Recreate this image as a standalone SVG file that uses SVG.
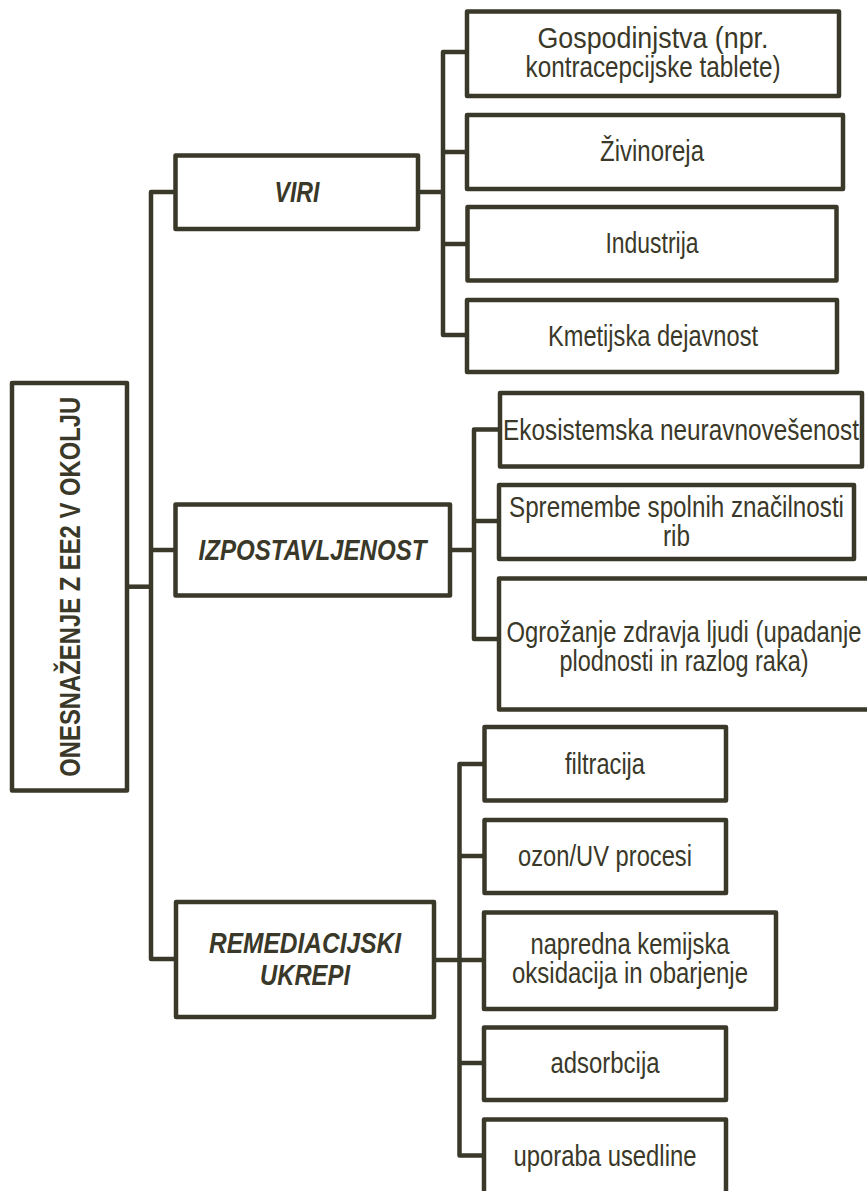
<svg xmlns="http://www.w3.org/2000/svg" width="867" height="1191" viewBox="0 0 867 1191">
<style>
  .box { fill: #ffffff; stroke: #3a3828; stroke-width: 4.5; stroke-linejoin: round; }
  .con { fill: none; stroke: #3a3828; stroke-width: 4.5; stroke-linejoin: round; stroke-linecap: butt; }
  .t { font-family: "Liberation Sans", Arial, sans-serif; font-size: 29px; fill: #3a3828; text-anchor: middle; }
  .h { font-family: "Liberation Sans", Arial, sans-serif; font-size: 29px; font-weight: bold; font-style: italic; fill: #3a3828; text-anchor: middle; }
  .m { font-family: "Liberation Sans", Arial, sans-serif; font-size: 30px; font-weight: bold; fill: #3a3828; text-anchor: middle; }
</style>
<rect width="867" height="1191" fill="#ffffff"/>
<g id="connectors">
  <path class="con" d="M127,586.7 H151"/>
  <path class="con" d="M175.5,192 H151 V959 H176"/>
  <path class="con" d="M151,550 H175.5"/>
  <path class="con" d="M418,192 H443"/>
  <path class="con" d="M467,52 H443 V335 H467"/>
  <path class="con" d="M443,152 H467"/>
  <path class="con" d="M443,244 H467"/>
  <path class="con" d="M450,550 H474"/>
  <path class="con" d="M500,429.5 H474 V639 H499"/>
  <path class="con" d="M474,521 H499"/>
  <path class="con" d="M434,960 H484"/>
  <path class="con" d="M484.5,764 H459.5 V1155.5 H484"/>
  <path class="con" d="M459.5,856 H484.5"/>
  <path class="con" d="M459.5,1063 H484"/>
</g>
<g id="root">
  <rect class="box" x="12" y="383" width="115" height="407.5"/>
  <text class="m" transform="translate(79.5,586.7) rotate(-90)" textLength="380" lengthAdjust="spacingAndGlyphs">ONESNAŽENJE Z EE2 V OKOLJU</text>
</g>
<g id="viri">
  <rect class="box" x="175.5" y="155.5" width="242.5" height="73.5"/>
  <text class="h" x="297" y="201.5" textLength="45" lengthAdjust="spacingAndGlyphs">VIRI</text>
</g>
<g id="gospodinjstva">
  <rect class="box" x="467" y="11.5" width="372" height="84.5"/>
  <text class="t" x="653" y="48" textLength="231" lengthAdjust="spacingAndGlyphs">Gospodinjstva (npr.</text>
  <text class="t" x="653" y="77" textLength="255" lengthAdjust="spacingAndGlyphs">kontracepcijske tablete)</text>
</g>
<g id="zivinoreja">
  <rect class="box" x="467" y="115" width="376" height="74"/>
  <text class="t" x="652" y="161" textLength="104" lengthAdjust="spacingAndGlyphs">Živinoreja</text>
</g>
<g id="industrija">
  <rect class="box" x="467.5" y="207" width="369" height="73.5"/>
  <text class="t" x="652" y="253" textLength="93" lengthAdjust="spacingAndGlyphs">Industrija</text>
</g>
<g id="kmetijska">
  <rect class="box" x="467" y="300" width="370" height="72"/>
  <text class="t" x="653" y="346" textLength="210" lengthAdjust="spacingAndGlyphs">Kmetijska dejavnost</text>
</g>
<g id="izpostavljenost">
  <rect class="box" x="175.5" y="504.5" width="274.5" height="91"/>
  <text class="h" x="312.5" y="560" textLength="228" lengthAdjust="spacingAndGlyphs">IZPOSTAVLJENOST</text>
</g>
<g id="ekosistemska">
  <rect class="box" x="500" y="393" width="362" height="73.5"/>
  <text class="t" x="681" y="440" textLength="356" lengthAdjust="spacingAndGlyphs">Ekosistemska neuravnovešenost</text>
</g>
<g id="spremembe">
  <rect class="box" x="499" y="485" width="355" height="74"/>
  <text class="t" x="676.5" y="517" textLength="335" lengthAdjust="spacingAndGlyphs">Spremembe spolnih značilnosti</text>
  <text class="t" x="676.5" y="546" textLength="27" lengthAdjust="spacingAndGlyphs">rib</text>
</g>
<g id="ogrozanje">
  <rect class="box" x="499" y="578.5" width="371" height="131"/>
  <text class="t" x="684" y="642" textLength="355" lengthAdjust="spacingAndGlyphs">Ogrožanje zdravja ljudi (upadanje</text>
  <text class="t" x="684" y="671" textLength="249" lengthAdjust="spacingAndGlyphs">plodnosti in razlog raka)</text>
</g>
<g id="remediacijski">
  <rect class="box" x="176" y="902" width="258" height="115"/>
  <text class="h" x="305" y="953" textLength="192" lengthAdjust="spacingAndGlyphs">REMEDIACIJSKI</text>
  <text class="h" x="305" y="985" textLength="90" lengthAdjust="spacingAndGlyphs">UKREPI</text>
</g>
<g id="filtracija">
  <rect class="box" x="484.5" y="727" width="241.5" height="73.5"/>
  <text class="t" x="605" y="773.5" textLength="80" lengthAdjust="spacingAndGlyphs">filtracija</text>
</g>
<g id="ozon">
  <rect class="box" x="484.5" y="820" width="241.5" height="73"/>
  <text class="t" x="605" y="866" textLength="174" lengthAdjust="spacingAndGlyphs">ozon/UV procesi</text>
</g>
<g id="napredna">
  <rect class="box" x="484" y="912.5" width="292" height="96.5"/>
  <text class="t" x="630" y="954" textLength="199" lengthAdjust="spacingAndGlyphs">napredna kemijska</text>
  <text class="t" x="630" y="983" textLength="236" lengthAdjust="spacingAndGlyphs">oksidacija in obarjenje</text>
</g>
<g id="adsorbcija">
  <rect class="box" x="484" y="1027.5" width="242" height="72.5"/>
  <text class="t" x="605" y="1073" textLength="109" lengthAdjust="spacingAndGlyphs">adsorbcija</text>
</g>
<g id="uporaba">
  <rect class="box" x="484" y="1119.5" width="242" height="80"/>
  <text class="t" x="605" y="1165.5" textLength="183" lengthAdjust="spacingAndGlyphs">uporaba usedline</text>
</g>
</svg>
